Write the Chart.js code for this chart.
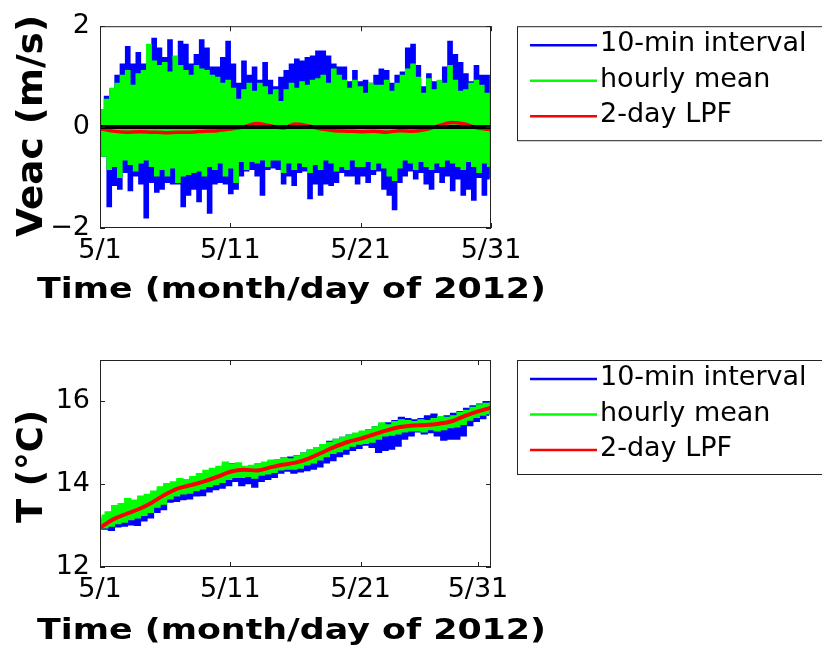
<!DOCTYPE html>
<html>
<head>
<meta charset="utf-8">
<script src="https://cdn.jsdelivr.net/npm/chart.js@4.4.1/dist/chart.umd.min.js"></script>
<style>
    html, body { margin: 0; background: #fff; }
    #wrap { position: relative; width: 822px; height: 652px; overflow: hidden; }
    canvas { position: absolute; left: 0; }
    #veacChart { top: 0; }
    #tempChart { top: 326px; }
</style>
</head>
<body>
<div id="wrap">
    <canvas id="veacChart" width="822" height="326"></canvas>
    <canvas id="tempChart" width="822" height="326"></canvas>
</div>
<script>
const FONT = "'DejaVu Sans', sans-serif";

const dayLabels = ["5/1", "5/11", "5/21", "5/31"];
const veacDayTicks = [0, 10, 20, 30];
const tempDayTicks = [0, 10, 20, 29];
const veacTicks = [-2, 0, 2];
const veacTickLabels = ["\u22122", "0", "2"];
const tempTicks = [12, 14, 16];
const tempTickLabels = ["12", "14", "16"];
const seriesNames = ["10-min interval", "hourly mean", "2-day LPF"];
const seriesColors = ["#0000ff", "#00ff00", "#ff0000"];
const timeTitle = "Time (month/day of 2012)";
const lpfDays = [0, 1, 2, 3, 4, 5, 6, 7, 8, 9, 10, 11, 12, 13, 14, 15, 16, 17, 18, 19, 20, 21, 22, 23, 24, 25, 26, 27, 28, 29, 30];

// Veac (m/s): flood / ebb extremes of each half tide
const veac10minHigh = [0.33, 0.59, 0.72, 1.01, 1.23, 1.58, 1.23, 1.46, 1.23, 1.23, 1.74, 1.55, 1.36, 1.71, 1.29, 1.68, 1.62, 1.23, 1.42, 1.71,
    1.55, 1.17, 1.17, 1.36, 1.68, 1.23, 0.85, 1.29, 1.01, 1.17, 0.91, 1.26, 0.91, 0.78, 0.97, 1.10, 1.23, 1.33, 1.29, 1.36,
    1.39, 1.49, 1.49, 1.39, 1.23, 1.17, 1.17, 0.88, 1.10, 0.88, 0.91, 0.85, 1.01, 1.13, 1.10, 0.85, 1.01, 1.07, 1.55, 1.62,
    1.20, 0.78, 1.04, 0.88, 0.85, 1.17, 1.68, 1.42, 1.26, 1.04, 0.88, 1.20, 1.01, 1.01];
const veac10minLow = [-0.56, -1.56, -1.14, -1.21, -0.88, -1.24, -0.95, -1.11, -1.78, -1.08, -1.27, -1.21, -1.08, -1.11, -1.11, -1.56, -1.33, -1.21, -1.46, -1.21,
    -1.69, -1.11, -1.08, -1.11, -1.30, -1.21, -0.95, -0.85, -0.82, -0.95, -1.33, -0.82, -0.79, -0.82, -1.11, -0.95, -1.14, -0.88, -0.85, -1.40,
    -1.11, -1.33, -1.11, -1.14, -1.08, -0.88, -0.95, -0.95, -1.11, -0.95, -1.08, -0.92, -0.85, -1.21, -1.33, -1.62, -1.08, -0.95, -0.85, -1.01,
    -0.88, -1.11, -1.21, -0.88, -1.08, -0.95, -1.24, -1.01, -1.33, -1.21, -1.43, -0.98, -1.33, -1.01];
const veacHourlyHigh = [0.33, 0.53, 0.75, 0.85, 1.01, 1.10, 0.81, 1.04, 1.10, 1.62, 1.29, 1.20, 1.26, 1.07, 1.39, 1.20, 1.10, 1.01, 1.20, 1.13,
    1.10, 1.01, 0.97, 0.85, 0.91, 0.75, 0.53, 0.72, 0.85, 0.69, 0.85, 0.78, 0.62, 0.72, 0.49, 0.72, 0.85, 0.75, 0.88, 0.81,
    0.91, 0.94, 1.01, 0.85, 1.13, 1.01, 0.91, 0.75, 0.91, 0.78, 0.65, 0.85, 0.81, 0.81, 0.91, 0.69, 0.85, 1.01, 1.13, 1.23,
    0.97, 0.65, 0.94, 0.72, 0.91, 0.85, 1.20, 0.91, 0.69, 0.72, 0.85, 0.91, 0.81, 0.65];
const veacHourlyLow = [-0.56, -0.82, -0.76, -0.98, -0.63, -0.72, -0.85, -0.69, -0.63, -0.76, -0.95, -0.82, -0.95, -0.79, -1.08, -0.95, -0.92, -0.88, -0.85, -0.95,
    -0.76, -0.82, -0.69, -0.95, -0.79, -1.08, -0.66, -0.82, -0.66, -0.69, -0.63, -0.76, -0.63, -0.63, -0.88, -0.69, -0.82, -0.69, -0.76, -0.88,
    -0.72, -0.82, -0.63, -0.69, -0.85, -0.76, -0.82, -0.63, -0.76, -0.76, -0.66, -0.82, -0.69, -0.79, -0.95, -1.04, -0.79, -0.63, -0.69, -0.82,
    -0.66, -0.76, -0.82, -0.69, -0.76, -0.63, -0.69, -0.76, -0.82, -0.66, -0.76, -0.88, -0.69, -0.76];
const veacLpf = [-0.03, -0.08, -0.10, -0.09, -0.10, -0.11, -0.10, -0.10, -0.08, -0.07, -0.04, 0.00, 0.07, 0.03, -0.02, 0.06,
    0.02, -0.04, -0.07, -0.08, -0.09, -0.08, -0.10, -0.07, -0.08, -0.05, 0.03, 0.09, 0.06, -0.02, -0.05];

// T (degC): high / low of each half day
const temp10minHigh = [13.15, 13.20, 13.30, 13.35, 13.45, 13.50, 13.55, 13.62, 13.72, 13.82, 13.92, 13.98, 14.02, 14.05, 14.10,
    14.15, 14.22, 14.28, 14.35, 14.45, 14.46, 14.42, 14.38, 14.40, 14.45, 14.48, 14.52, 14.55, 14.60, 14.62,
    14.66, 14.72, 14.78, 14.85, 14.92, 15.00, 15.05, 15.10, 15.15, 15.18, 15.22, 15.28, 15.35, 15.42, 15.45,
    15.50, 15.58, 15.55, 15.52, 15.55, 15.62, 15.66, 15.60, 15.62, 15.68, 15.72, 15.80, 15.86, 15.90, 15.96];
const temp10minLow = [12.95, 12.92, 13.00, 13.02, 13.05, 13.04, 13.15, 13.22, 13.35, 13.42, 13.60, 13.62, 13.66, 13.68, 13.75,
    13.76, 13.85, 13.90, 13.94, 14.00, 14.10, 14.00, 14.05, 13.96, 14.10, 14.15, 14.20, 14.30, 14.35, 14.30,
    14.33, 14.36, 14.40, 14.45, 14.55, 14.60, 14.70, 14.76, 14.85, 14.90, 14.98, 14.92, 14.80, 14.85, 14.88,
    14.95, 15.12, 15.20, 15.30, 15.25, 15.28, 15.20, 15.10, 15.12, 15.12, 15.20, 15.45, 15.55, 15.62, 15.70];
const tempHourlyHigh = [13.22, 13.30, 13.45, 13.50, 13.62, 13.58, 13.68, 13.72, 13.80, 13.90, 13.98, 14.02, 14.10, 14.08, 14.15,
    14.22, 14.30, 14.35, 14.40, 14.50, 14.45, 14.48, 14.40, 14.42, 14.45, 14.50, 14.55, 14.56, 14.60, 14.58,
    14.65, 14.72, 14.80, 14.85, 14.92, 14.98, 15.05, 15.10, 15.15, 15.20, 15.25, 15.28, 15.35, 15.45, 15.40,
    15.48, 15.52, 15.50, 15.48, 15.52, 15.50, 15.55, 15.60, 15.58, 15.62, 15.70, 15.75, 15.82, 15.88, 15.92];
const tempHourlyLow = [12.98, 13.02, 13.08, 13.12, 13.18, 13.22, 13.28, 13.35, 13.48, 13.55, 13.68, 13.75, 13.80, 13.82, 13.88,
    13.92, 13.98, 14.02, 14.08, 14.15, 14.20, 14.20, 14.22, 14.18, 14.25, 14.28, 14.32, 14.38, 14.40, 14.40,
    14.42, 14.50, 14.55, 14.62, 14.70, 14.78, 14.82, 14.88, 14.95, 15.00, 15.02, 15.05, 15.12, 15.20, 15.22,
    15.25, 15.30, 15.32, 15.32, 15.30, 15.35, 15.32, 15.35, 15.40, 15.42, 15.48, 15.58, 15.65, 15.70, 15.74];
const tempLpf = [12.95, 13.15, 13.28, 13.40, 13.56, 13.75, 13.90, 13.98, 14.07, 14.18, 14.30, 14.35, 14.33, 14.40, 14.47, 14.52,
    14.62, 14.76, 14.90, 15.02, 15.10, 15.20, 15.30, 15.38, 15.42, 15.43, 15.46, 15.52, 15.65, 15.76, 15.85];

Chart.defaults.font.family = FONT;
Chart.defaults.color = "#000";

// alternate the high and low of each cycle along the 30-day span
function cyclePoints(highs, lows, spanDays) {
    const step = spanDays / highs.length;
    const points = [];
    highs.forEach((high, i) => {
        points.push({ x: (i + 0.25) * step, y: high });
        points.push({ x: (i + 0.75) * step, y: lows[i] });
    });
    return points;
}

function dailyPoints(days, values) {
    return days.map((day, i) => ({ x: day, y: values[i] }));
}

// box, inward tick marks and the optional zero line
const framePlugin = {
    id: "frame",
    afterDatasetsDraw(chart, args, opts) {
        const { ctx, chartArea, scales } = chart;
        const { left, right, top, bottom } = chartArea;
        ctx.save();
        if (opts.baseline !== undefined) {
            const y0 = scales.y.getPixelForValue(opts.baseline);
            ctx.strokeStyle = "#000";
            ctx.lineWidth = 4;
            ctx.beginPath();
            ctx.moveTo(left, y0);
            ctx.lineTo(right, y0);
            ctx.stroke();
        }
        ctx.strokeStyle = "#222";
        ctx.lineWidth = 1;
        ctx.strokeRect(left + 0.5, top + 0.5, right - left - 1, bottom - top - 1);
        ctx.beginPath();
        scales.x.ticks.forEach((tick) => {
            const px = Math.round(scales.x.getPixelForValue(tick.value)) + 0.5;
            ctx.moveTo(px, bottom);
            ctx.lineTo(px, bottom - 5);
            ctx.moveTo(px, top);
            ctx.lineTo(px, top + 5);
        });
        scales.y.ticks.forEach((tick) => {
            const py = Math.round(scales.y.getPixelForValue(tick.value)) + 0.5;
            ctx.moveTo(left, py);
            ctx.lineTo(left + 5, py);
            ctx.moveTo(right, py);
            ctx.lineTo(right - 5, py);
        });
        ctx.stroke();
        ctx.restore();
    },
};

// wide bold axis titles, stretched to their set length
const axisTitlePlugin = {
    id: "axisTitles",
    afterDraw(chart, args, opts) {
        const { ctx } = chart;
        ctx.save();
        ctx.fillStyle = "#000";
        ctx.textAlign = "center";
        ctx.textBaseline = "alphabetic";

        ctx.font = `bold ${opts.x.size}px ${FONT}`;
        const xWidth = ctx.measureText(opts.x.text).width;
        ctx.translate(opts.x.center, opts.x.baseline);
        ctx.scale(opts.x.length / xWidth, 1);
        ctx.fillText(opts.x.text, 0, 0);
        ctx.setTransform(1, 0, 0, 1, 0, 0);

        ctx.font = `bold ${opts.y.size}px ${FONT}`;
        const yWidth = ctx.measureText(opts.y.text).width;
        ctx.translate(opts.y.baseline, opts.y.center);
        ctx.rotate(-Math.PI / 2);
        ctx.scale(opts.y.length / yWidth, 1);
        ctx.fillText(opts.y.text, 0, 0);
        ctx.restore();
    },
};

// boxed legend to the right of the axes
const boxLegendPlugin = {
    id: "boxLegend",
    afterDraw(chart) {
        const { ctx, chartArea } = chart;
        const boxLeft = chartArea.right + 26;
        const boxTop = chartArea.top;
        const rowGap = 35.5;
        const items = chart.data.datasets.filter((ds) => ds.label);

        ctx.save();
        ctx.strokeStyle = "#222";
        ctx.lineWidth = 1;
        ctx.strokeRect(boxLeft + 0.5, boxTop + 0.5, 400, 114);
        ctx.font = `27px ${FONT}`;
        ctx.textBaseline = "middle";
        ctx.fillStyle = "#000";
        items.forEach((ds, i) => {
            const rowY = boxTop + 19 + i * rowGap;
            ctx.strokeStyle = ds.borderColor;
            ctx.lineWidth = 2.5;
            ctx.beginPath();
            ctx.moveTo(boxLeft + 13, rowY);
            ctx.lineTo(boxLeft + 80, rowY);
            ctx.stroke();
            ctx.fillText(ds.label, boxLeft + 83, rowY - 1);
        });
        ctx.restore();
    },
};

function createPanel(elementId, panel) {
    const context = document.getElementById(elementId);

    return new Chart(context, {
        type: "line",
        data: {
            datasets: [{
                label: seriesNames[0],
                data: panel.tenMinute,
                borderColor: seriesColors[0],
                borderWidth: panel.lineWidth,
                stepped: "middle",
                pointRadius: 0,
                order: 3,
            }, {
                label: seriesNames[1],
                data: panel.hourly,
                borderColor: seriesColors[1],
                borderWidth: panel.lineWidth,
                stepped: "middle",
                pointRadius: 0,
                order: 2,
            }, {
                label: seriesNames[2],
                data: panel.lpf,
                borderColor: seriesColors[2],
                borderWidth: panel.lpfWidth,
                tension: 0.4,
                cubicInterpolationMode: "monotone",
                pointRadius: 0,
                order: 1,
            }],
        },
        options: {
            responsive: false,
            animation: false,
            events: [],
            layout: { padding: { left: 0, top: panel.top, right: 331, bottom: 0 } },
            plugins: {
                legend: { display: false },
                tooltip: { enabled: false },
                frame: { baseline: panel.baseline },
                axisTitles: {
                    x: { text: timeTitle, size: 29, center: 291.5, baseline: panel.xTitleBaseline, length: 509 },
                    y: { text: panel.yTitle, size: 36, center: panel.yTitleCenter, baseline: 42, length: panel.yTitleLength },
                },
            },
            scales: {
                x: {
                    type: "linear",
                    min: 0,
                    max: 30,
                    afterBuildTicks: (scale) => { scale.ticks = panel.dayTicks.map((value) => ({ value })); },
                    afterFit: (scale) => { scale.height = panel.xAxisHeight; },
                    ticks: {
                        callback: (value) => dayLabels[panel.dayTicks.indexOf(value)],
                        font: { size: 27 },
                        padding: 7,
                        maxRotation: 0,
                        autoSkip: false,
                    },
                    grid: { display: false, drawTicks: false },
                    border: { display: false },
                },
                y: {
                    type: "linear",
                    min: panel.yMin,
                    max: panel.yMax,
                    afterBuildTicks: (scale) => { scale.ticks = panel.yTicks.map((value) => ({ value })); },
                    afterFit: (scale) => { scale.width = 100; },
                    ticks: {
                        callback: (value) => panel.yTickLabels[panel.yTicks.indexOf(value)],
                        font: { size: 27 },
                        padding: 10,
                    },
                    grid: { display: false, drawTicks: false },
                    border: { display: false },
                },
            },
        },
        plugins: [framePlugin, axisTitlePlugin, boxLegendPlugin],
    });
}

createPanel("veacChart", {
    tenMinute: cyclePoints(veac10minHigh, veac10minLow, 30),
    hourly: cyclePoints(veacHourlyHigh, veacHourlyLow, 30),
    lpf: dailyPoints(lpfDays, veacLpf),
    lineWidth: 3,
    lpfWidth: 3.5,
    baseline: 0,
    top: 20,
    xAxisHeight: 98,
    xTitleBaseline: 298,
    dayTicks: veacDayTicks,
    yMin: -2,
    yMax: 2,
    yTicks: veacTicks,
    yTickLabels: veacTickLabels,
    yTitle: "Veac (m/s)",
    yTitleCenter: 126,
    yTitleLength: 222,
});

createPanel("tempChart", {
    tenMinute: cyclePoints(temp10minHigh, temp10minLow, 30),
    hourly: cyclePoints(tempHourlyHigh, tempHourlyLow, 30),
    lpf: dailyPoints(lpfDays, tempLpf),
    lineWidth: 4,
    lpfWidth: 4,
    baseline: undefined,
    top: 34,
    xAxisHeight: 85,
    xTitleBaseline: 313,
    dayTicks: tempDayTicks,
    yMin: 12,
    yMax: 17,
    yTicks: tempTicks,
    yTickLabels: tempTickLabels,
    yTitle: "T (°C)",
    yTitleCenter: 140.5,
    yTitleLength: 113,
});
</script>
</body>
</html>
